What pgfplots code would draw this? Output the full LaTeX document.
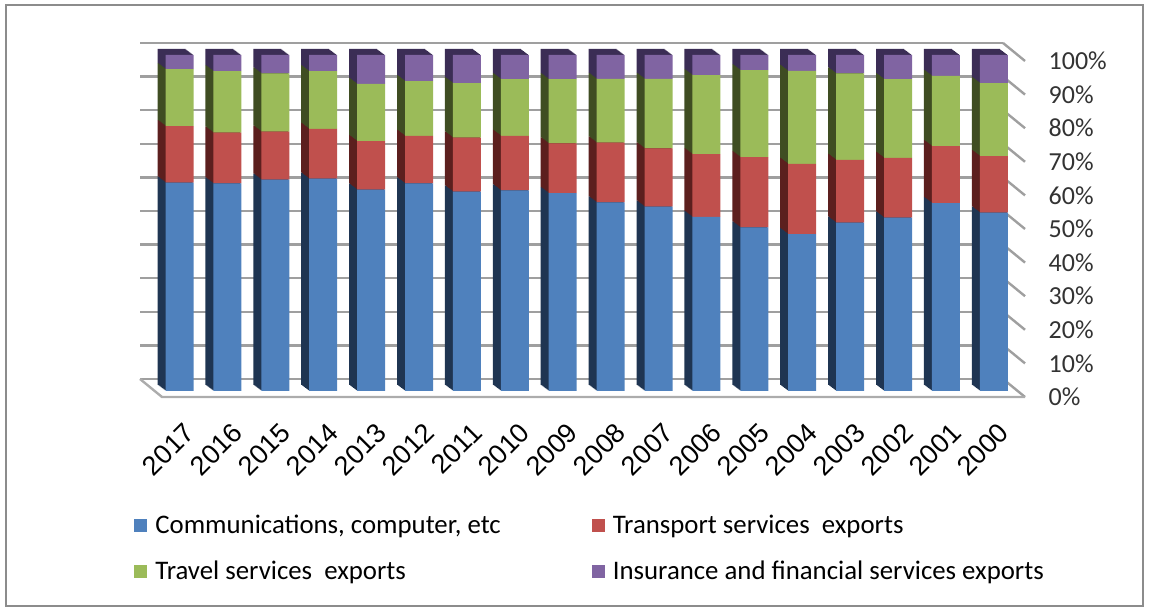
\documentclass[border=0pt]{standalone}
\usepackage{fontspec}
\setmainfont{Carlito}
\newfontfamily\arialfont{Liberation Sans}
\usepackage{pgfplots}
\usepackage{pgfplotstable}
\pgfplotsset{compat=1.18}

\definecolor{cblue}{HTML}{4F81BD}
\definecolor{cred}{HTML}{C0504D}
\definecolor{cgreen}{HTML}{9BBB59}
\definecolor{cpurple}{HTML}{8064A2}
\definecolor{sblue}{HTML}{1F3552}
\definecolor{sred}{HTML}{5C1F1E}
\definecolor{sgreen}{HTML}{3F4D22}
\definecolor{spurple}{HTML}{3B2D55}

\pgfplotstableread{
x year comm transp travel insur
0  2017 62.0 16.8 17.0 4.2
1  2016 61.8 15.1 18.3 4.8
2  2015 62.9 14.3 17.3 5.5
3  2014 63.2 14.8 17.2 4.8
4  2013 59.9 14.5 17.0 8.6
5  2012 61.8 14.1 16.3 7.8
6  2011 59.3 16.1 16.2 8.4
7  2010 59.7 16.2 16.9 7.2
8  2009 58.9 14.8 19.1 7.2
9  2008 56.1 17.8 19.0 7.1
10 2007 54.9 17.3 20.7 7.1
11 2006 51.8 18.7 23.5 6.0
12 2005 48.7 20.9 25.9 4.5
13 2004 46.7 20.9 27.7 4.7
14 2003 50.1 18.7 25.7 5.5
15 2002 51.6 17.8 23.4 7.2
16 2001 55.9 17.0 20.9 6.2
17 2000 53.1 16.8 21.7 8.4
}\datatable

\pgfplotsset{
  barbase/.style={
    scale only axis, width=445.47pt, height=168pt,
    xmin=-0.8, xmax=17.8, ymin=0, ymax=100,
    ybar stacked, bar width=14pt,
    anchor=south west,
  },
  legsq/.style={legend image code/.code={\fill[##1] (0pt,-3.25pt) rectangle (6.5pt,3.25pt); \path (8.5pt,0pt);}},
}

\begin{document}
\begin{tikzpicture}
% bounding box
\path (0,0) rectangle (574.5pt,304pt);

% back wall gridlines
\begin{axis}[scale only axis, width=431.5pt, height=168pt,
  at={(70pt,114.5pt)}, anchor=south west,
  xmin=0, xmax=1, ymin=0, ymax=100,
  ytick={0,10,...,100}, xtick=\empty, yticklabels={},
  ymajorgrids, grid style={color=gray!75, line width=1.2pt},
  axis line style={draw=none}, major tick length=0pt]
  \addplot[draw=none, forget plot] coordinates {(0,0)};
\end{axis}

% floor and diagonal ticks (decoration, image px units)
\begin{scope}[shift={(0pt,304pt)}, x=0.5pt, y=-0.5pt]
  \foreach \v in {0,...,10} {
    \draw[gray!75, line width=1.2pt] (1003,{379-33.6*\v}) -- (1025,{397-33.6*\v});
  }
  \draw[gray!65, line width=1.2pt] (140,379) -- (162,397) -- (1025,397);
\end{scope}

% side/top faces of the 3D bars (layered extrusion)
\foreach \k in {8,7,...,1} {
\begin{axis}[barbase, hide axis, at={({70.59pt-0.5pt*\k},{108.5pt+0.375pt*\k})}]
  \addplot[fill=sblue, draw=none] table[x=x, y=comm] {\datatable};
  \addplot[fill=sred, draw=none] table[x=x, y=transp] {\datatable};
  \addplot[fill=sgreen, draw=none] table[x=x, y=travel] {\datatable};
  \addplot[fill=spurple, draw=none] table[x=x, y=insur] {\datatable};
\end{axis}
}

% front faces
\begin{axis}[barbase, at={(70.59pt,108.5pt)},
  axis line style={draw=none}, major tick length=0pt,
  ytick=\empty,
  xtick={0,...,17},
  xticklabels={2017,2016,2015,2014,2013,2012,2011,2010,2009,2008,2007,2006,2005,2004,2003,2002,2001,2000},
  xticklabel style={font=\arialfont\fontsize{13.5}{15}\selectfont, xshift=7.6pt, yshift=-16pt, rotate=45, anchor=east},
  legend columns=2,
  legend style={at={(-0.0148,-0.343)}, anchor=north west, draw=none, fill=none,
    font=\fontsize{13.4}{16}\selectfont, row sep=8.2pt,
    /tikz/every even column/.append style={column sep=43.5pt}},
  legend cell align=left]
  \addplot[fill=cblue, draw=none, legsq] table[x=x, y=comm] {\datatable};
  \addlegendentry{Communications, computer, etc}
  \addplot[fill=cred, draw=none, legsq] table[x=x, y=transp] {\datatable};
  \addlegendentry{Transport services\ \ exports}
  \addplot[fill=cgreen, draw=none, legsq] table[x=x, y=travel] {\datatable};
  \addlegendentry{Travel services\ \ exports}
  \addplot[fill=cpurple, draw=none, legsq] table[x=x, y=insur] {\datatable};
  \addlegendentry{Insurance and financial services exports}
\end{axis}

% front plane y tick labels
\begin{axis}[scale only axis, width=431.5pt, height=168pt,
  at={(81pt,105.5pt)}, anchor=south west,
  xmin=0, xmax=1, ymin=0, ymax=100,
  ytick={0,10,...,100}, xtick=\empty,
  yticklabels={0\%,10\%,20\%,30\%,40\%,50\%,60\%,70\%,80\%,90\%,100\%},
  yticklabel pos=right,
  yticklabel style={anchor=west, xshift=8.3pt, font=\fontsize{13}{15}\selectfont, text=black!80},
  axis line style={draw=none}, major tick length=0pt]
  \addplot[draw=none, forget plot] coordinates {(0,0)};
\end{axis}

% outer frame
\begin{scope}[shift={(0pt,304pt)}, x=0.5pt, y=-0.5pt]
  \draw[gray!90, line width=1.2pt] (6,5) rectangle (1143,606);
\end{scope}
\end{tikzpicture}
\end{document}
